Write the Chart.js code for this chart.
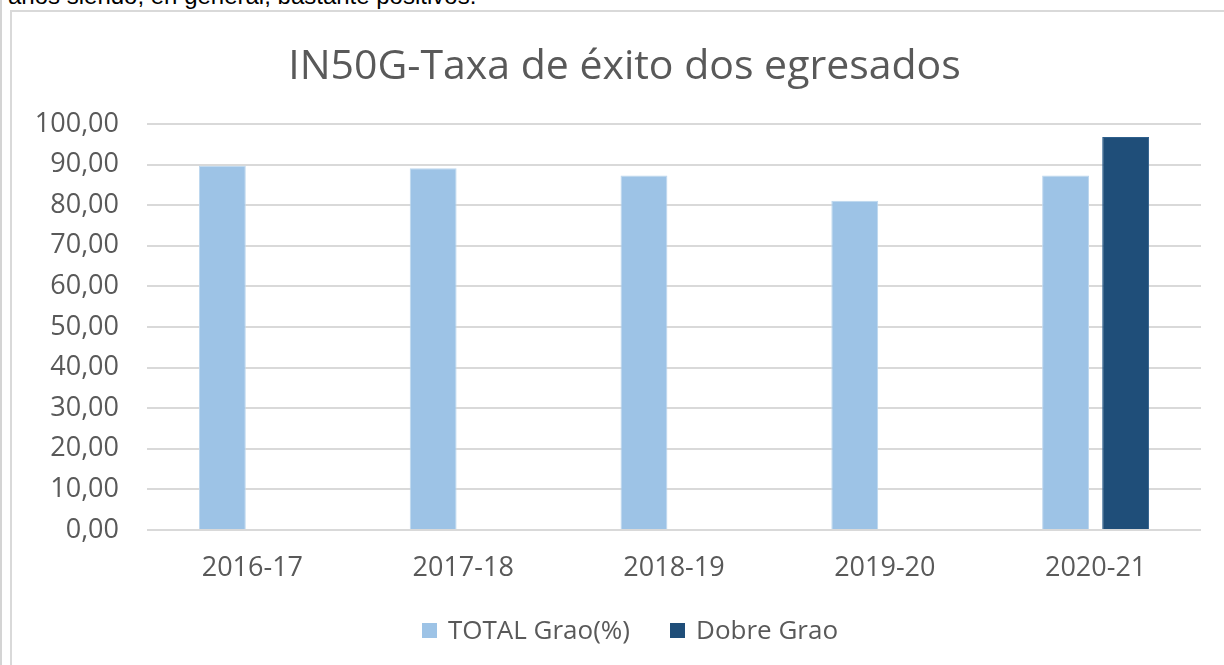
<!DOCTYPE html>
<html>
<head>
<meta charset="utf-8">
<script src="https://cdn.jsdelivr.net/npm/chart.js@4"></script>
<style>
  html, body { margin: 0; padding: 0; background: #fff; overflow: hidden; }
  body { width: 1224px; height: 665px; position: relative; }
  .edge { position: absolute; left: 0; top: 0; width: 2px; height: 665px; background: #d4d4d4; }
  .intro { position: absolute; left: 8px; top: -18px; font: 24px "Liberation Sans", Arial, sans-serif; color: #000; white-space: nowrap; }
  .box { position: absolute; left: 10px; top: 10px; width: 1300px; height: 760px; border: 2px solid #d9d9d9; }
  #chart { position: absolute; left: 0; top: 0; }
  .title { position: absolute; left: 0; top: 39px; width: 1249px; text-align: center;
           font: 41px/49px "Open Sans", sans-serif; color: #595959; white-space: nowrap; }
  #legend { position: absolute; left: 0; top: 614px; width: 1260px; text-align: center;
            font: 26px/30px "Open Sans", sans-serif; color: #595959; white-space: nowrap; }
  #legend span.item { display: inline-block; margin: 0 20px; }
  #legend span.swatch { display: inline-block; width: 15px; height: 15px; margin-right: 11px; vertical-align: 1px; }
</style>
</head>
<body>
<div class="edge"></div>
<div class="intro">años siendo, en general, bastante positivos.</div>
<div class="box">
  <canvas id="chart" width="1212" height="700"></canvas>
</div>
<div class="title">IN50G-Taxa de éxito dos egresados</div>
<div id="legend"></div>
<script>
  var categories = ["2016-17", "2017-18", "2018-19", "2019-20", "2020-21"];
  var totalGrao = [89.7, 89.1, 87.3, 81.1, 87.3];
  var dobreGrao = [null, null, null, null, 96.8];
  var yMin = 0, yMax = 100, yStep = 10;

  var grey = '#595959';
  var font = '"Open Sans", sans-serif';

  var ctx = document.getElementById('chart').getContext('2d');
  var myChart = new Chart(ctx, {
    type: 'bar',
    data: {
      labels: categories,
      datasets: [
        {
          label: 'TOTAL Grao(%)',
          data: totalGrao,
          backgroundColor: '#9dc3e6',
          borderColor: '#bdd7ee',
          borderWidth: 1,
          categoryPercentage: 0.57,
          barPercentage: 0.78
        },
        {
          label: 'Dobre Grao',
          data: dobreGrao,
          backgroundColor: '#1f4e79',
          borderColor: '#2e5f8c',
          borderWidth: 1,
          categoryPercentage: 0.57,
          barPercentage: 0.78
        }
      ]
    },
    options: {
      responsive: false,
      animation: false,
      layout: { padding: { top: 112, right: 23, bottom: 136, left: 10 } },
      plugins: {
        title: { display: false },
        legend: { display: false },
        tooltip: { enabled: false }
      },
      scales: {
        x: {
          afterFit: function(scale) { scale.height = 46; },
          grid: { display: false, drawTicks: false },
          border: { display: false },
          ticks: { color: grey, font: { family: font, size: 27 }, padding: 22 }
        },
        y: {
          min: yMin,
          max: yMax,
          afterFit: function(scale) { scale.width = 125; },
          grid: { color: '#d9d9d9', lineWidth: 2, drawTicks: false },
          border: { display: false },
          ticks: {
            stepSize: yStep,
            color: grey,
            font: { family: font, size: 27 },
            padding: 28,
            callback: function(v) { return v.toFixed(2).replace('.', ','); }
          }
        }
      }
    }
  });

  // legend built from the chart's datasets
  var legend = document.getElementById('legend');
  myChart.data.datasets.forEach(function(ds) {
    var item = document.createElement('span');
    item.className = 'item';
    var swatch = document.createElement('span');
    swatch.className = 'swatch';
    swatch.style.background = ds.backgroundColor;
    item.appendChild(swatch);
    item.appendChild(document.createTextNode(ds.label));
    legend.appendChild(item);
  });
</script>
</body>
</html>
